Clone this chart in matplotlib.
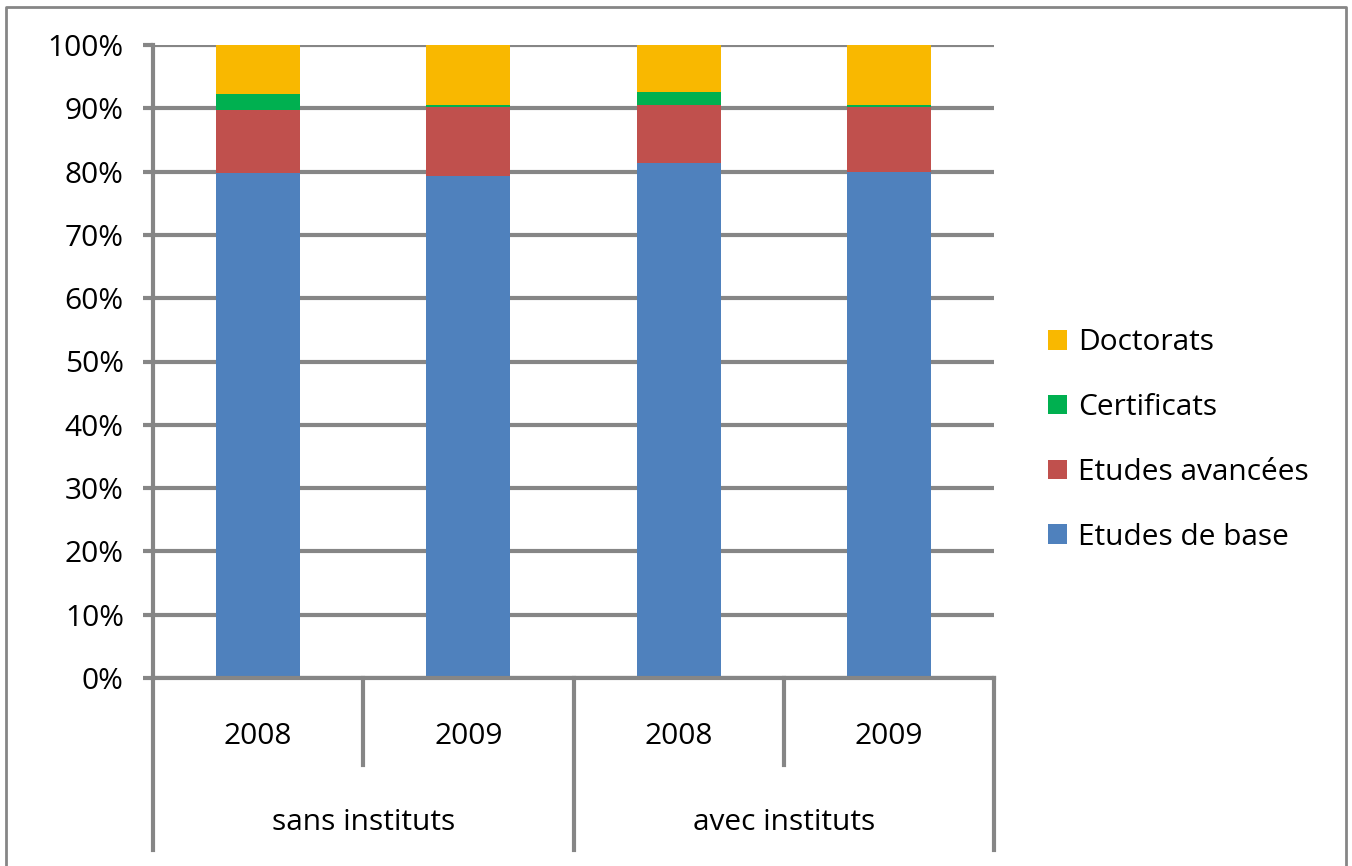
import matplotlib
matplotlib.use("Agg")
import matplotlib.pyplot as plt
import matplotlib.transforms as mtransforms
from matplotlib.patches import Patch
from matplotlib.lines import Line2D
import numpy as np

plt.rcParams['font.family'] = ['Open Sans', 'DejaVu Sans']

years = ["2008", "2009", "2008", "2009"]
groups = ["sans instituts", "avec instituts"]
series_names = ["Etudes de base", "Etudes avancées", "Certificats", "Doctorats"]
etudes_base = [79.7, 79.3, 81.3, 80.0]
etudes_avancees = [10.0, 10.9, 9.2, 10.2]
certificats = [2.5, 0.3, 2.1, 0.3]
doctorats = [7.8, 9.5, 7.4, 9.5]
colors = ["#4F81BD", "#C0504D", "#00B050", "#F9B800"]
yticks = [0, 10, 20, 30, 40, 50, 60, 70, 80, 90, 100]

W, H = 1352, 866
FS = 21.5
fig = plt.figure(figsize=(W / 100, H / 100), dpi=100)
ax = fig.add_axes([153 / W, 1 - 678 / H, (994 - 153) / W, (678 - 45) / H])

grey = "#868686"
x = np.arange(len(years))
bottom = np.zeros(len(years))
handles = []
for name, vals, c in zip(series_names, [etudes_base, etudes_avancees, certificats, doctorats], colors):
    ax.bar(x, vals, width=0.4, bottom=bottom, color=c, zorder=3)
    bottom += np.array(vals)
    handles.append(Patch(facecolor=c, label=name))

ax.set_xlim(-0.5, len(years) - 0.5)
ax.set_ylim(0, 100)
ax.set_yticks(yticks)
ax.set_yticklabels([f"{v}%" for v in yticks], fontsize=FS)
ax.yaxis.grid(True, color=grey, linewidth=3, zorder=0)
ax.set_axisbelow(True)
ax.tick_params(axis='y', direction='out', length=7, width=3, color=grey, pad=14)
ax.set_xticks([])
for s in ["top", "right"]:
    ax.spines[s].set_visible(False)
for s in ["left", "bottom"]:
    ax.spines[s].set_color(grey)
    ax.spines[s].set_linewidth(3)
    ax.spines[s].set_zorder(4)

# multi-level category axis
trans = mtransforms.blended_transform_factory(ax.transData, ax.transAxes)
for i in range(len(years) + 1):
    xb = i - 0.5
    ybot = -0.2717 if i % 2 == 0 else -0.1374
    ax.add_line(Line2D([xb, xb], [0, ybot], transform=trans, color=grey,
                       linewidth=3, clip_on=False, zorder=4))
for i, yl in enumerate(years):
    ax.text(i, -0.0932, yl, transform=trans, ha='center', va='center', fontsize=FS)
for j, g in enumerate(groups):
    ax.text(2 * j + 0.5, -0.229, g, transform=trans, ha='center', va='center', fontsize=FS)

# legend
fig.legend(handles=handles[::-1], loc='center left',
           bbox_to_anchor=(1048 / W, 1 - 440 / H), frameon=False, fontsize=FS,
           borderpad=0, borderaxespad=0,
           handlelength=0.64, handleheight=0.64, handletextpad=0.36, labelspacing=1.2)

# outer border
bx0, bx1, by0 = 6 / W, 1346 / W, 1 - 7 / H
fig.add_artist(Line2D([bx0, bx0, bx1, bx1], [-0.05, by0, by0, -0.05],
                      transform=fig.transFigure, color=grey, linewidth=2))

fig.savefig("out.png", dpi=100)
